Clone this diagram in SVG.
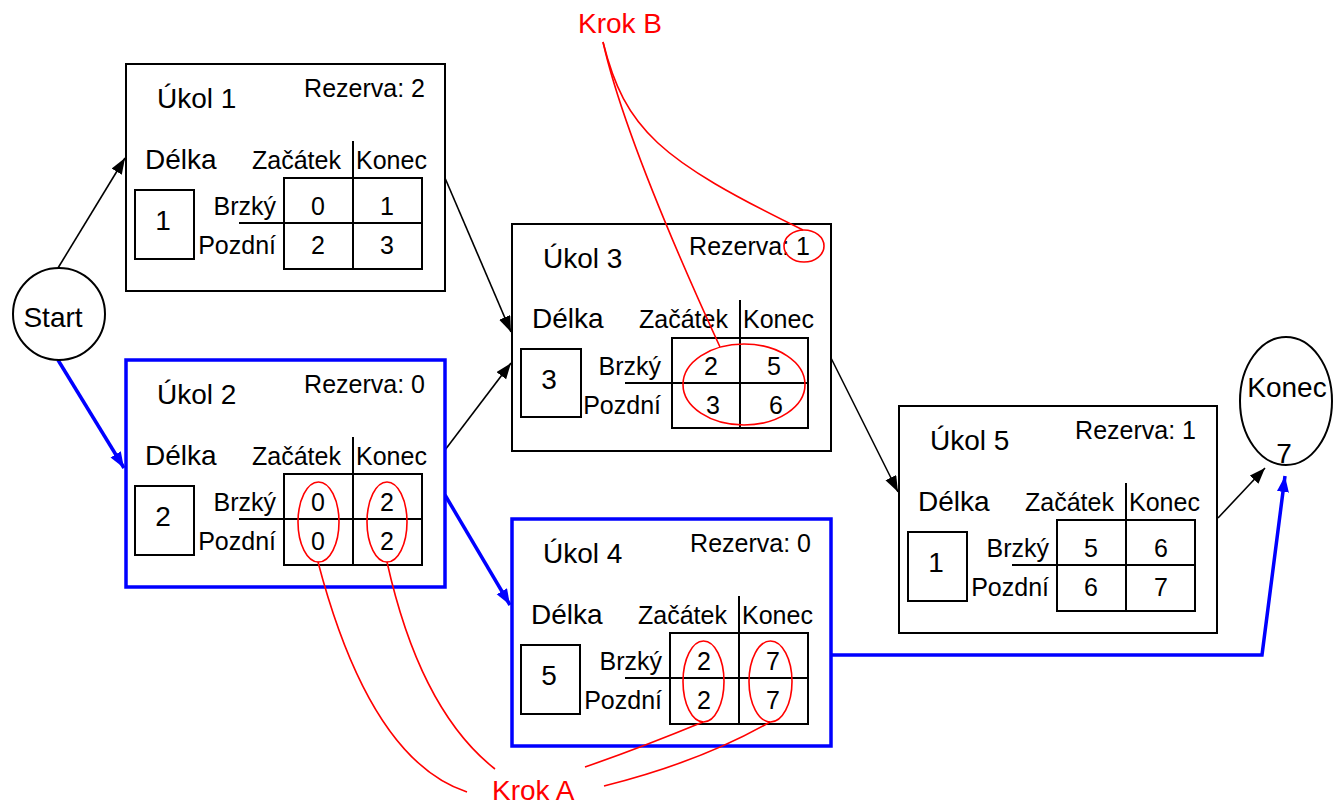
<svg xmlns="http://www.w3.org/2000/svg" width="1341" height="807" viewBox="0 0 1341 807">
<style>
text{font-family:"Liberation Sans",Arial,sans-serif;fill:#000}
.t28{font-size:28px}
.t25{font-size:25px}
.m{text-anchor:middle}
.e{text-anchor:end}
.box{fill:#fff;stroke:#000;stroke-width:2}
.crit{fill:#fff;stroke:#0000ff;stroke-width:3.5}
.thin{fill:none;stroke:#000;stroke-width:2}
.red{fill:none;stroke:#ff0000;stroke-width:1.6}
.redt{fill:#ff0000;font-size:28px}
.conn{fill:none;stroke:#000;stroke-width:1.6}
.connb{fill:none;stroke:#0000ff;stroke-width:3.5}
</style>
<defs>
<marker id="ab" markerUnits="userSpaceOnUse" markerWidth="18" markerHeight="14" refX="16" refY="6" orient="auto"><path d="M0,0 L16,6 L0,12 z" fill="#000"/></marker>
<marker id="abl" markerUnits="userSpaceOnUse" markerWidth="18" markerHeight="14" refX="16" refY="6" orient="auto"><path d="M0,0 L16,6 L0,12 z" fill="#0000ff"/></marker>
</defs>
<rect width="1341" height="807" fill="#fff"/>

<g id="connectors">
<path class="conn" d="M58,268 L125,158" marker-end="url(#ab)"/>
<path class="connb" d="M58,360 L124,468" marker-end="url(#abl)"/>
<path class="conn" d="M445,178 L511,332" marker-end="url(#ab)"/>
<path class="conn" d="M445,450 L511,363" marker-end="url(#ab)"/>
<path class="connb" d="M445,495 L510,605" marker-end="url(#abl)"/>
<path class="conn" d="M831,358 L898,492" marker-end="url(#ab)"/>
<path class="conn" d="M1218,518 L1265,468" marker-end="url(#ab)"/>
<path class="connb" d="M831,655 L1262,655 L1285,476" marker-end="url(#abl)"/>
</g>

<g id="start">
<circle cx="59" cy="314" r="46" class="thin" fill="#fff"/>
<text x="53" y="327" class="t28 m">Start</text>
</g>

<g id="konec">
<ellipse cx="1286" cy="401" rx="46" ry="64" class="thin"/>
<text x="1287" y="397" class="t28 m">Konec</text>
<text x="1284" y="463" class="t28 m">7</text>
</g>

<g id="task1" transform="translate(126,64)">
<rect x="0" y="0" width="319" height="227" class="box"/>
<text x="31" y="44" class="t28">Úkol 1</text>
<text x="299" y="33" class="t25 e">Rezerva: 2</text>
<text x="19" y="105" class="t28">Délka</text>
<text x="126" y="105" class="t25">Začátek</text>
<text x="230" y="105" class="t25">Konec</text>
<rect x="158" y="114" width="138" height="91" class="thin"/>
<line x1="227" y1="77" x2="227" y2="205" class="thin"/>
<line x1="113" y1="159" x2="296" y2="159" class="thin"/>
<rect x="9" y="126" width="59" height="69" class="thin"/>
<text x="37" y="166" class="t28 m">1</text>
<text x="150" y="151" class="t25 e">Brzký</text>
<text x="150" y="190" class="t25 e">Pozdní</text>
<text x="192" y="151" class="t25 m">0</text>
<text x="261" y="151" class="t25 m">1</text>
<text x="192" y="190" class="t25 m">2</text>
<text x="261" y="190" class="t25 m">3</text>
</g>

<g id="task2" transform="translate(126,360)">
<rect x="0" y="0" width="319" height="227" class="crit"/>
<text x="31" y="44" class="t28">Úkol 2</text>
<text x="299" y="33" class="t25 e">Rezerva: 0</text>
<text x="19" y="105" class="t28">Délka</text>
<text x="126" y="105" class="t25">Začátek</text>
<text x="230" y="105" class="t25">Konec</text>
<rect x="158" y="114" width="138" height="91" class="thin"/>
<line x1="227" y1="77" x2="227" y2="205" class="thin"/>
<line x1="113" y1="159" x2="296" y2="159" class="thin"/>
<rect x="9" y="126" width="59" height="69" class="thin"/>
<text x="37" y="166" class="t28 m">2</text>
<text x="150" y="151" class="t25 e">Brzký</text>
<text x="150" y="190" class="t25 e">Pozdní</text>
<text x="192" y="151" class="t25 m">0</text>
<text x="261" y="151" class="t25 m">2</text>
<text x="192" y="190" class="t25 m">0</text>
<text x="261" y="190" class="t25 m">2</text>
</g>

<g id="task3" transform="translate(512,224)">
<rect x="0" y="0" width="319" height="227" class="box"/>
<text x="31" y="44" class="t28">Úkol 3</text>
<text x="298" y="31" class="t25 e">Rezerva: 1</text>
<text x="20" y="104" class="t28">Délka</text>
<text x="127" y="104" class="t25">Začátek</text>
<text x="231" y="104" class="t25">Konec</text>
<rect x="160" y="114" width="136" height="90" class="thin"/>
<line x1="228" y1="76" x2="228" y2="204" class="thin"/>
<line x1="113" y1="159" x2="296" y2="159" class="thin"/>
<rect x="9" y="125" width="60" height="68" class="thin"/>
<text x="37" y="165" class="t28 m">3</text>
<text x="149" y="151" class="t25 e">Brzký</text>
<text x="149" y="190" class="t25 e">Pozdní</text>
<text x="199" y="151" class="t25 m">2</text>
<text x="262" y="151" class="t25 m">5</text>
<text x="201" y="190" class="t25 m">3</text>
<text x="264" y="190" class="t25 m">6</text>
</g>

<g id="task4" transform="translate(512,519)">
<rect x="0" y="0" width="319" height="227" class="crit"/>
<text x="31" y="44" class="t28">Úkol 4</text>
<text x="299" y="33" class="t25 e">Rezerva: 0</text>
<text x="19" y="105" class="t28">Délka</text>
<text x="126" y="105" class="t25">Začátek</text>
<text x="230" y="105" class="t25">Konec</text>
<rect x="158" y="114" width="138" height="91" class="thin"/>
<line x1="227" y1="77" x2="227" y2="205" class="thin"/>
<line x1="113" y1="159" x2="296" y2="159" class="thin"/>
<rect x="9" y="126" width="59" height="69" class="thin"/>
<text x="37" y="166" class="t28 m">5</text>
<text x="150" y="151" class="t25 e">Brzký</text>
<text x="150" y="190" class="t25 e">Pozdní</text>
<text x="192" y="151" class="t25 m">2</text>
<text x="261" y="151" class="t25 m">7</text>
<text x="192" y="190" class="t25 m">2</text>
<text x="261" y="190" class="t25 m">7</text>
</g>

<g id="task5" transform="translate(899,406)">
<rect x="0" y="0" width="318" height="227" class="box"/>
<text x="31" y="44" class="t28">Úkol 5</text>
<text x="297" y="33" class="t25 e">Rezerva: 1</text>
<text x="19" y="105" class="t28">Délka</text>
<text x="126" y="105" class="t25">Začátek</text>
<text x="230" y="105" class="t25">Konec</text>
<rect x="158" y="114" width="138" height="91" class="thin"/>
<line x1="227" y1="77" x2="227" y2="205" class="thin"/>
<line x1="113" y1="159" x2="296" y2="159" class="thin"/>
<rect x="9" y="126" width="59" height="69" class="thin"/>
<text x="37" y="166" class="t28 m">1</text>
<text x="150" y="151" class="t25 e">Brzký</text>
<text x="150" y="190" class="t25 e">Pozdní</text>
<text x="192" y="151" class="t25 m">5</text>
<text x="262" y="151" class="t25 m">6</text>
<text x="192" y="190" class="t25 m">6</text>
<text x="262" y="190" class="t25 m">7</text>
</g>

<g id="annotations">
<ellipse cx="318.5" cy="522" rx="20.5" ry="40" class="red"/>
<ellipse cx="387" cy="522" rx="20" ry="40" class="red"/>
<ellipse cx="703.5" cy="681.5" rx="20.5" ry="40.5" class="red"/>
<ellipse cx="770.5" cy="681.5" rx="21.5" ry="40.5" class="red"/>
<ellipse cx="744" cy="384.5" rx="61" ry="40.5" class="red"/>
<ellipse cx="804" cy="246" rx="20" ry="16" class="red"/>
<path class="red" d="M603,42 Q625,140 720,347"/>
<path class="red" d="M603,42 C625,130 660,160 803,230"/>
<path class="red" d="M318,562 Q370,760 467,792"/>
<path class="red" d="M387,562 Q420,710 495,769"/>
<path class="red" d="M703,722 Q640,748 585,767"/>
<path class="red" d="M770,722 Q700,762 604,786"/>
<text x="578" y="33" class="redt">Krok B</text>
<text x="492" y="800" class="redt">Krok A</text>
</g>
</svg>
